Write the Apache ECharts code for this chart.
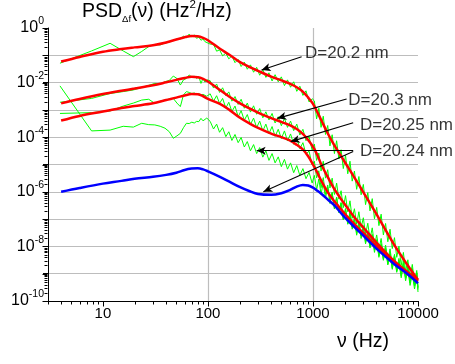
<!DOCTYPE html>
<html><head><meta charset="utf-8">
<script src="https://cdn.jsdelivr.net/npm/echarts@6/dist/echarts.min.js"></script>
<style>html,body{margin:0;padding:0;background:#fff}#c{width:455px;height:364px}</style>
</head><body><div id="c"></div>
<script>
// ---- fitted model curves (frequency in Hz, values are log10 of PSD) ----
const fitFreq = [4, 6, 10, 15, 20, 30, 40, 50, 60, 70, 80, 90, 100, 130, 160, 200, 250, 300, 400, 500, 600, 700, 800, 900, 1000, 1100, 1200, 1400, 1600, 2000, 2500, 3000, 4000, 5000, 6000, 8000, 10000];
const fit202Log = [-1.23,-1.06,-0.87,-0.77,-0.71,-0.63,-0.53,-0.42,-0.34,-0.29,-0.30,-0.36,-0.45,-0.76,-0.98,-1.24,-1.43,-1.57,-1.78,-1.92,-2.04,-2.17,-2.33,-2.55,-2.78,-3.08,-3.38,-3.9,-4.3,-4.9,-5.5,-6.0,-6.8,-7.45,-7.97,-8.7,-9.23];
const fit203Log = [-2.76,-2.6,-2.42,-2.3,-2.22,-2.1,-1.99,-1.9,-1.83,-1.79,-1.8,-1.86,-1.96,-2.27,-2.52,-2.75,-2.95,-3.1,-3.3,-3.44,-3.56,-3.7,-3.88,-4.1,-4.35,-4.65,-5.0,-5.5,-5.9,-6.45,-6.95,-7.3,-7.85,-8.25,-8.55,-8.95,-9.22];
const fit2025Log = [-3.39,-3.22,-3.06,-2.93,-2.86,-2.76,-2.64,-2.55,-2.47,-2.42,-2.43,-2.5,-2.6,-2.78,-3.0,-3.28,-3.5,-3.66,-3.87,-4.0,-4.12,-4.28,-4.45,-4.7,-5.0,-5.3,-5.6,-6.05,-6.35,-6.8,-7.2,-7.5,-7.98,-8.35,-8.62,-9.02,-9.28];
const fit2024Log = [-6.0,-5.86,-5.7,-5.6,-5.52,-5.45,-5.38,-5.3,-5.2,-5.15,-5.14,-5.18,-5.25,-5.45,-5.63,-5.82,-5.98,-6.08,-6.11,-6.05,-5.94,-5.81,-5.75,-5.77,-5.85,-5.96,-6.07,-6.3,-6.5,-6.93,-7.3,-7.6,-8.07,-8.4,-8.66,-9.02,-9.35];

// ---- measured spectra (green), log10 of PSD ----
const measFreq = [3.9,7.8,11.7,15.6,19.5,23.4,27.3,31.2,35.1,39,42.9,46.8,50.7,54.6,58.5,62.4,66.3,70.2,74.1,78,81.9,85.8,89.7,93.6,97.5,
  105,113,121,129,138,148,158,169,181,194,207,222,237,254,272,291,311,333,356,381,408,436,467,500,535,572,612,655,701,750,802,858,918,982,
  1031,1083,1137,1194,1253,1316,1382,1451,1523,1600,1680,1764,1852,1944,2042,2144,2251,2363,2482,2606,2736,2873,3017,3167,3326,3492,3667,3850,4043,4245,4457,4680,4914,5160,5418,5689,5973,6272,6585,6915,7260,7623,8005,8405,8825,9266,9730,10000];
const meas202Log = [-1.29,-0.84,-0.56,-0.84,-1.05,-0.86,-0.68,-0.6,-0.62,-0.55,-0.52,-0.45,-0.4,-0.4,-0.3,-0.36,-0.22,-0.33,-0.25,-0.38,-0.33,-0.45,-0.4,-0.5,-0.45,
  -0.59,-0.6,-0.85,-0.8,-1.02,-0.92,-1.13,-1.02,-1.27,-1.15,-1.41,-1.25,-1.51,-1.35,-1.62,-1.44,-1.73,-1.52,-1.81,-1.64,-1.94,-1.71,-1.97,-1.79,-2.11,-1.9,-2.17,-1.97,-2.32,-2.13,-2.47,-2.3,-2.71,-2.59,
  -2.67,-3.33,-2.94,-3.64,-3.23,-3.9,-3.57,-4.32,-3.91,-4.6,-4.13,-4.8,-4.46,-5.15,-4.67,-5.34,-4.88,-5.61,-5.24,-5.91,-5.44,-6.11,-5.73,-6.47,-6.03,-6.7,-6.25,-6.99,-6.57,-7.24,-6.82,-7.58,-7.16,-7.83,-7.37,-8.08,-7.68,-8.4,-7.99,-8.7,-8.22,-8.92,-8.49,-9.14,-8.66,-9.33,-8.88,-9.53];
const meas203Log = [-2.72,-2.58,-2.4,-2.33,-2.27,-2.18,-2.1,-2.03,-2.05,-1.97,-1.92,-1.76,-1.85,-2.09,-1.9,-1.85,-1.72,-1.8,-1.76,-1.85,-1.78,-2.03,-1.85,-1.98,-1.9,
  -1.93,-2.2,-2.05,-2.36,-2.19,-2.48,-2.34,-2.68,-2.51,-2.8,-2.61,-2.94,-2.75,-3.08,-2.85,-3.16,-2.95,-3.29,-3.07,-3.37,-3.13,-3.48,-3.25,-3.58,-3.31,-3.64,-3.41,-3.76,-3.52,-3.92,-3.71,-4.13,-3.98,-4.48,
  -4.25,-4.85,-4.58,-5.24,-4.88,-5.5,-5.19,-5.86,-5.5,-6.1,-5.68,-6.27,-5.96,-6.58,-6.14,-6.73,-6.33,-6.97,-6.62,-7.19,-6.73,-7.31,-6.95,-7.56,-7.15,-7.73,-7.32,-7.97,-7.58,-8.12,-7.71,-8.35,-7.95,-8.54,-8.09,-8.68,-8.29,-8.87,-8.44,-9.01,-8.53,-9.12,-8.72,-9.27,-8.81,-9.39,-8.96,-9.49];
const meas2025Log = [-3.13,-3.1,-3.04,-2.86,-2.75,-2.64,-2.61,-2.76,-2.68,-2.64,-2.6,-2.58,-2.75,-2.88,-2.45,-2.33,-2.36,-2.4,-2.38,-2.42,-2.4,-2.45,-2.43,-2.45,-2.5,
  -2.41,-2.68,-2.48,-2.76,-2.58,-2.93,-2.72,-3.06,-2.86,-3.25,-3.03,-3.38,-3.17,-3.53,-3.3,-3.65,-3.41,-3.77,-3.52,-3.87,-3.61,-3.97,-3.71,-4.05,-3.77,-4.14,-3.88,-4.26,-4.02,-4.42,-4.2,-4.62,-4.51,-5.02,
  -4.88,-5.49,-5.23,-5.85,-5.48,-6.09,-5.75,-6.37,-6.01,-6.63,-6.2,-6.74,-6.39,-7.0,-6.61,-7.17,-6.73,-7.29,-6.95,-7.53,-7.08,-7.62,-7.24,-7.85,-7.44,-8.0,-7.56,-8.13,-7.75,-8.35,-7.9,-8.47,-8.04,-8.65,-8.23,-8.8,-8.34,-8.91,-8.51,-9.08,-8.61,-9.17,-8.77,-9.34,-8.91,-9.45,-9.01,-9.58];
const meas2024Log = [-2.12,-3.77,-3.74,-3.6,-3.63,-3.49,-3.54,-3.55,-3.6,-3.67,-3.8,-4.04,-3.95,-3.86,-3.65,-3.49,-3.5,-3.45,-3.48,-3.42,-3.43,-3.31,-3.4,-3.37,-3.3,
  -3.42,-3.7,-3.52,-3.82,-3.65,-3.98,-3.8,-4.12,-3.9,-4.2,-4.01,-4.36,-4.16,-4.5,-4.27,-4.6,-4.38,-4.73,-4.5,-4.85,-4.6,-4.94,-4.72,-5.08,-4.81,-5.17,-4.94,-5.3,-5.04,-5.4,-5.15,-5.52,-5.29,-5.68,
  -5.4,-5.93,-5.53,-6.09,-5.67,-6.23,-5.82,-6.43,-6.05,-6.61,-6.2,-6.77,-6.41,-7.03,-6.63,-7.19,-6.79,-7.37,-7.02,-7.59,-7.14,-7.71,-7.33,-7.91,-7.51,-8.06,-7.63,-8.22,-7.83,-8.4,-7.95,-8.51,-8.09,-8.68,-8.28,-8.84,-8.39,-8.95,-8.57,-9.15,-8.7,-9.26,-8.86,-9.43,-9.0,-9.56,-9.11,-9.67];

// ---- axis tick values ----
const xTickLabels = [10, 100, 1000, 10000];
const yLabelExponents = [0, -2, -4, -6, -8, -10];

// ---- annotations: label text, label anchor (Hz, PSD), arrows [from, to] in (Hz, PSD) ----
const annotLabels = ['D=20.2 nm', 'D=20.3 nm', 'D=20.25 nm', 'D=20.24 nm'];
const annotAnchors = [[840, 0.118], [2170, 2.3e-3], [2800, 2.8e-4], [2800, 2.95e-5]];
const annotArrows = [
  [[780, 0.089], [324, 0.029]],
  [[2090, 2.5e-3], [457, 4.9e-4]],
  [[2415, 3.4e-4], [614, 6.9e-5]],
  [[2415, 3.2e-5], [291, 3.2e-5]],
  [[2415, 3.0e-5], [337, 1.0e-6]]
];

const FONT = '"Liberation Sans", Arial, sans-serif';
const toPts = (fs, ex) => fs.map((f, i) => [f, Math.pow(10, ex[i])]);

const minorX = [];
for (let k = 3; k <= 9; k++) minorX.push(k);
[10, 100, 1000].forEach(d => { for (let k = 2; k <= 9; k++) minorX.push(k * d); });
const majorY = [];
for (let e = -10; e <= 0; e++) majorY.push(Math.pow(10, e));
const minorY = [];
for (let e = -10; e <= -1; e++) for (let k = 2; k <= 9; k++) minorY.push(k * Math.pow(10, e));
const yLabelVals = yLabelExponents.map(e => Math.pow(10, e));

const chart = echarts.init(document.getElementById('c'), null, {renderer: 'canvas'});

const GREEN = '#00ff00';
const mkGreen = (name, ex) => ({name, type: 'line', data: toPts(measFreq, ex), showSymbol: false, symbol: 'none',
  lineStyle: {color: GREEN, width: 1}, itemStyle: {color: GREEN}, z: 2, silent: true});
const mkFit = (name, ex, col) => ({name, type: 'line', data: toPts(fitFreq, ex), showSymbol: false, symbol: 'none',
  smooth: 0.35, lineStyle: {color: col, width: 2.5}, itemStyle: {color: col}, z: 3, silent: true});

const titleEls = [
  {id: 'title', type: 'text', left: 82, top: -1,
    style: {text: '{a|PSD}{s|Δf}{a|(ν) (Hz}{p|2}{a|/Hz)}', fill: '#000', fontFamily: FONT,
      rich: {a: {fontSize: 19.5, lineHeight: 25, fontFamily: FONT, fill: '#000'},
             s: {fontSize: 9.5, lineHeight: 16, verticalAlign: 'bottom', fontFamily: FONT, fill: '#000'},
             p: {fontSize: 11.5, lineHeight: 12, verticalAlign: 'top', fontFamily: FONT, fill: '#000'}}}},
  {id: 'xname', type: 'text', left: 337, top: 332,
    style: {text: 'ν (Hz)', fontSize: 19.5, fontFamily: FONT, fill: '#000'}}
];

const arrowData = annotArrows.map(a => [{coord: a[0]}, {coord: a[1]}]);
const markLineBase = {silent: true, symbol: ['none', 'arrow'], symbolSize: [6, 9], precision: 10,
  lineStyle: {color: '#000', width: 1.1, type: 'solid'}, label: {show: false}, emphasis: {disabled: true}};

const option = {
  animation: false,
  grid: {left: 48, right: 37, top: 28, bottom: 63},
  xAxis: {type: 'log', min: 3, max: 10000,
    axisLine: {show: true, lineStyle: {color: '#000', width: 1}},
    axisTick: {show: true, length: 5, customValues: xTickLabels, lineStyle: {color: '#000', width: 1}},
    axisLabel: {show: true, customValues: xTickLabels, margin: 5, fontSize: 15, color: '#000', fontFamily: FONT,
      formatter: v => String(Math.round(v))},
    splitLine: {show: true, showMinLine: false, showMaxLine: false, lineStyle: {color: '#bdbdbd', width: 1.2}}},
  yAxis: {type: 'log', min: 1e-10, max: 1,
    axisLine: {show: true, lineStyle: {color: '#000', width: 1}},
    axisTick: {show: true, length: 5, customValues: majorY, lineStyle: {color: '#000', width: 1}},
    axisLabel: {show: true, customValues: yLabelVals, margin: 4, color: '#000', fontFamily: FONT,
      formatter: v => '{b|10}{e|' + Math.round(Math.log10(v)) + '}',
      rich: {b: {fontSize: 16, lineHeight: 24, fontFamily: FONT, color: '#000'},
             e: {fontSize: 10.5, lineHeight: 10, verticalAlign: 'top', fontFamily: FONT, color: '#000'}}},
    splitLine: {show: true, showMinLine: false, showMaxLine: false, lineStyle: {color: '#bdbdbd', width: 1.2}}},
  graphic: titleEls,
  series: [
    mkGreen('meas 20.2', meas202Log),
    mkGreen('meas 20.3', meas203Log),
    mkGreen('meas 20.25', meas2025Log),
    mkGreen('meas 20.24', meas2024Log),
    mkFit('D=20.2 nm', fit202Log, '#ff0000'),
    mkFit('D=20.3 nm', fit203Log, '#ff0000'),
    mkFit('D=20.25 nm', fit2025Log, '#ff0000'),
    mkFit('D=20.24 nm', fit2024Log, '#0000ff'),
    {id: 'annot', name: 'annotations', type: 'scatter', symbolSize: 0, z: 5, silent: true, clip: false,
      data: annotAnchors.map((p, i) => ({name: annotLabels[i], value: p})),
      label: {show: true, position: 'right', distance: 0, formatter: '{b}', fontSize: 17, color: '#000', fontFamily: FONT},
      markLine: Object.assign({data: arrowData}, markLineBase)}
  ]
};
chart.setOption(option);

// outward axis ticks, positioned through the axis scales (drawn as tick segments in pixel space)
const xPix = v => chart.convertToPixel({xAxisIndex: 0}, v);
const yPix = v => chart.convertToPixel({yAxisIndex: 0}, v);
const xBase = Math.round(yPix(1e-10)) + 0.5;
const yBase = Math.round(xPix(3)) - 0.5;
const tickSegs = [];
const addX = (v, len) => { const x = Math.round(xPix(v)) + 0.5;
  tickSegs.push([{x: x, y: xBase, symbol: 'none'}, {x: x, y: xBase + len, symbol: 'none'}]); };
const addY = (v, len) => { const y = Math.round(yPix(v)) + 0.5;
  tickSegs.push([{x: yBase, y: y, symbol: 'none'}, {x: yBase - len, y: y, symbol: 'none'}]); };
xTickLabels.forEach(v => addX(v, 5));
minorX.forEach(v => addX(v, 3));
majorY.forEach(v => addY(v, 5));
minorY.forEach(v => addY(v, 3));
const tickData = tickSegs.map(s => [
  Object.assign({lineStyle: {color: '#000', width: 1, type: 'solid'}}, s[0]),
  Object.assign({}, s[1])
]);
chart.setOption({series: [{id: 'annot', markLine: Object.assign({}, markLineBase, {data: arrowData.concat(tickData)})}]});
</script>
</body></html>
